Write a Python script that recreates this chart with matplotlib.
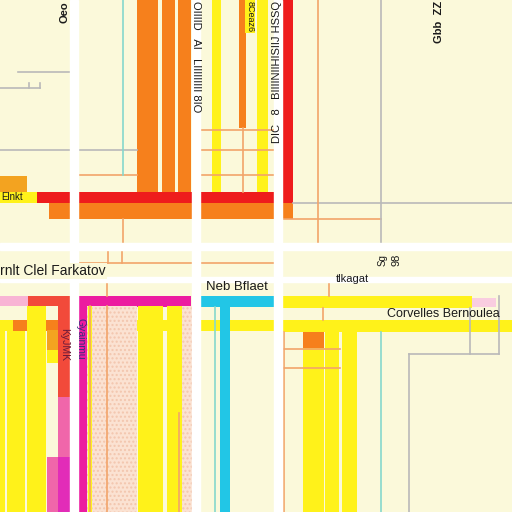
import matplotlib
matplotlib.use('Agg')
import matplotlib.pyplot as plt

# colours
CREAM = '#fbf9da'
ORANGE = '#f6801c'
AMBER = '#f3a320'
RED = '#ee1c1c'
YELLOW = '#fff21a'
MAGENTA = '#ec1ca0'
CYAN = '#22c6e6'
PEACH = '#fbe2d2'
PINK = '#f8b4d4'
HOTPINK = '#f066aa'
SALMON = '#f24a3a'
GRAY = '#b9b9b9'
TEAL = '#86d8cc'
THIN_OR = '#f2a46a'

# top row: columns hanging from the top edge
top_left = [137, 162, 178, 212, 239, 257, 282]
top_width = [21, 13, 13, 9, 7, 11, 11]
top_len = [192, 192, 192, 192, 128, 192, 203]
top_color = [ORANGE, ORANGE, ORANGE, YELLOW, ORANGE, YELLOW, RED]

# horizontal bands: (top, thickness, left, length)
band_top = [176, 192, 192, 203, 296, 296, 296, 296, 296, 298, 320, 320, 320, 320, 320, 320]
band_thick = [16, 11, 11, 16, 10, 10, 11, 11, 12, 9, 11, 11, 11, 11, 11, 12]
band_left = [0, 0, 37, 49, 0, 28, 78, 200, 282, 472, 0, 13, 87, 137, 200, 282]
band_len = [27, 37, 237, 244, 28, 42, 113, 74, 190, 24, 13, 57, 50, 54, 74, 230]
band_color = [AMBER, YELLOW, RED, ORANGE, PINK, SALMON, MAGENTA, CYAN, YELLOW, '#f9cde0',
              YELLOW, ORANGE, ORANGE, YELLOW, YELLOW, YELLOW]

# bottom row: columns standing on the bottom edge (length measured upward)
bot_left = [87, 182, 167, 0, 7, 27, 47, 47, 47, 47, 58, 58, 58, 78, 88, 138, 167,
            220, 303, 303, 325, 342]
bot_width = [50, 10, 15, 5, 18, 19, 11, 11, 11, 11, 12, 12, 12, 9, 4, 25, 15,
             10, 21, 21, 14, 15]
bot_len = [206, 206, 99, 181, 181, 206, 55, 149, 162, 182, 55, 115, 206, 206, 206, 206, 206,
           205, 164, 180, 180, 180]
bot_color = [PEACH, PEACH, PEACH, YELLOW, YELLOW, YELLOW, HOTPINK, CREAM, YELLOW, AMBER,
             '#e22cb8', HOTPINK, SALMON, MAGENTA, YELLOW, YELLOW, YELLOW,
             CYAN, YELLOW, ORANGE, YELLOW, YELLOW]
bot_order = [1, 1, 2, 1, 1, 1, 4, 3, 2, 1, 3, 2, 1, 1, 2, 2, 2, 3, 2, 1, 1, 1]

# thin rule lines: horizontal (y, x0, x1, colour) and vertical (x, y0, y1, colour)
hline_y = [72, 88, 150, 150, 130, 175, 175, 203, 219, 263, 349, 368, 354]
hline_x0 = [18, 0, 0, 200, 200, 78, 200, 293, 282, 78, 282, 282, 409]
hline_x1 = [70, 40, 137, 274, 274, 137, 274, 512, 381, 274, 340, 340, 499]
hline_c = [GRAY, GRAY, GRAY, THIN_OR, THIN_OR, THIN_OR, THIN_OR, GRAY, THIN_OR, THIN_OR,
           THIN_OR, THIN_OR, GRAY]

vline_x = [123, 123, 243, 318, 381, 29, 40, 108, 122, 107, 329, 323, 284, 381, 409, 499, 470,
           90, 107, 179, 215]
vline_y0 = [0, 219, 128, 0, 0, 83, 83, 250, 250, 282, 282, 308, 332, 332, 354, 296, 308,
            306, 306, 413, 307]
vline_y1 = [175, 243, 192, 243, 243, 88, 88, 263, 263, 296, 296, 320, 512, 512, 512, 354, 354,
            512, 512, 512, 512]
vline_c = [TEAL, THIN_OR, THIN_OR, THIN_OR, GRAY, GRAY, GRAY, THIN_OR, THIN_OR, THIN_OR,
           THIN_OR, THIN_OR, THIN_OR, TEAL, GRAY, GRAY, GRAY, THIN_OR, THIN_OR, THIN_OR, TEAL]

# white gutters between the panels
gutter_x = [70, 192, 274]
gutter_w = [8, 8, 8]
gutter_y = [243, 277]
gutter_h = [7, 5]


fig = plt.figure(figsize=(5.12, 5.12), dpi=100, facecolor='white')
ax = fig.add_axes([0, 0, 1, 1])
ax.set_xlim(0, 512)
ax.set_ylim(512, 0)
ax.axis('off')
ax.axvspan(0, 512, color=CREAM, zorder=0)

ax.bar(top_left, top_len, width=top_width, bottom=0, align='edge', color=top_color,
       linewidth=0, zorder=2)
ax.barh(band_top, band_len, height=band_thick, left=band_left, align='edge',
        color=band_color, linewidth=0, zorder=3)
for i in range(len(bot_left)):
    hatch = '....' if bot_color[i] == PEACH else None
    ax.bar(bot_left[i], -bot_len[i], width=bot_width[i], bottom=512, align='edge',
           color=bot_color[i], hatch=hatch, edgecolor='#f3c6ae' if hatch else None,
           linewidth=0, zorder=3.5 + 0.1 * bot_order[i])

for y, a, b, c in zip(hline_y, hline_x0, hline_x1, hline_c):
    ax.plot([a, b], [y, y], color=c, lw=1.2, zorder=4.5)
for x, a, b, c in zip(vline_x, vline_y0, vline_y1, vline_c):
    ax.plot([x, x], [a, b], color=c, lw=1.2, zorder=4.5)

for x, w in zip(gutter_x, gutter_w):
    ax.axvspan(x, x + w, color='white', zorder=6)
for y, h in zip(gutter_y, gutter_h):
    ax.axhspan(y, y + h, color='white', zorder=6)

fam = ['Liberation Sans', 'DejaVu Sans']
tk = dict(family=fam, color='#1a1a1a', zorder=8)
ax.text(0, 271, 'rnlt Clel Farkatov', fontsize=10, va='center', ha='left',
        bbox=dict(fc=CREAM, ec='none', pad=1), **tk)
ax.text(206, 287, 'Neb Bflaet', fontsize=9.5, va='center', ha='left', **tk)
ax.text(336, 279, 'tlkagat', fontsize=8, va='center', ha='left', **tk)
ax.text(387, 314, 'Corvelles Bernoulea', fontsize=9, va='center', ha='left', **tk)
ax.text(1, 197.5, 'Elnkt', fontsize=7, va='center', ha='left', **tk)
ax.text(64, 1, 'Oeo', fontsize=8, rotation=90, va='top', ha='center', fontweight='bold', **tk)
ax.text(196, 1, 'OIIIID   AI   LIIIIIIIII 8IO', fontsize=8, rotation=270, va='top',
        ha='center', **tk)
ax.text(250, 1, '8Ceaz6', fontsize=6.5, rotation=270, va='top', ha='center',
        bbox=dict(fc=YELLOW, ec='none', pad=0.5), **tk)
ax.text(277, 1, 'QSSH JIISIHIINIIIIB   8   CID'[::-1], fontsize=8, rotation=90, va='top',
        ha='center', **tk)
ax.text(439, 1, 'Gbb  ZZ', fontsize=8, rotation=90, va='top', ha='center',
        fontweight='bold', **tk)
ax.text(383, 254, 'Sg', fontsize=7, rotation=90, va='top', ha='center', **tk)
ax.text(396, 254, '98', fontsize=8, rotation=90, va='top', ha='center', **tk)
ax.text(64, 328, 'KyJMK', fontsize=7.5, rotation=270, va='top', ha='center',
        family=fam, color='#6a1a3a', zorder=8)
ax.text(80, 318, 'Gyainmu', fontsize=7.5, rotation=270, va='top', ha='center',
        family=fam, color='#3a2a80', zorder=8)

fig.savefig('out.png', dpi=100, facecolor='white')
